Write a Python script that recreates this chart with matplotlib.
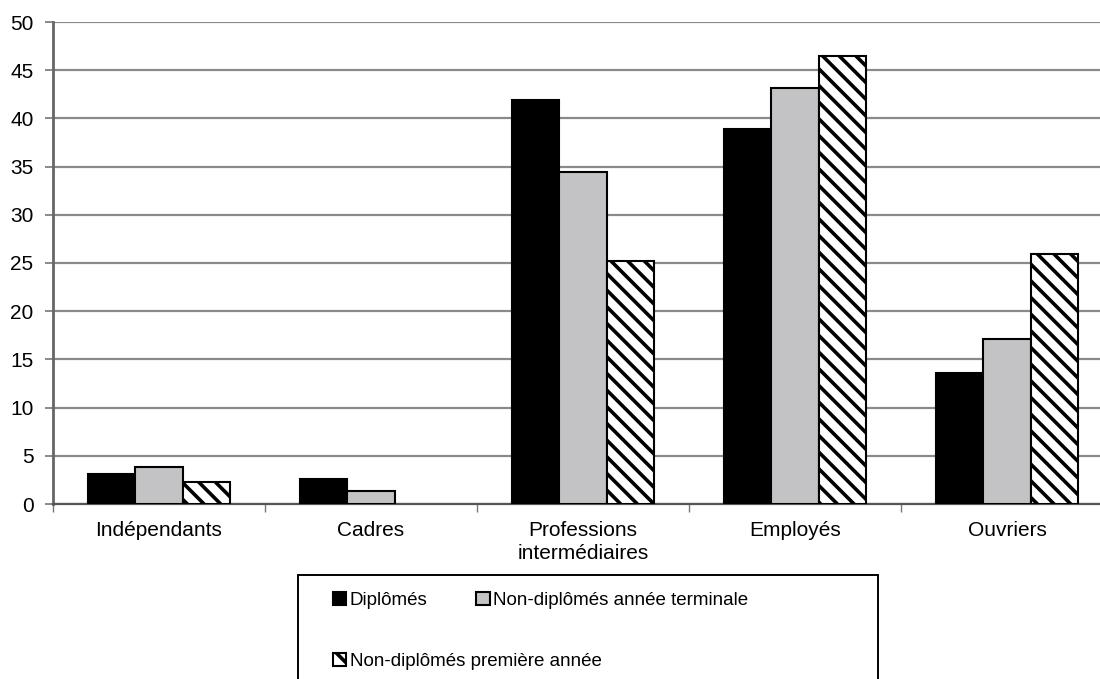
import numpy as np
import matplotlib
matplotlib.use('Agg')
import matplotlib.pyplot as plt
from matplotlib.patches import Rectangle

plt.rcParams['font.family'] = ['Liberation Sans', 'DejaVu Sans']
plt.rcParams['hatch.linewidth'] = 2.6

# catégories socioprofessionnelles et pourcentages
categories = ['Indépendants', 'Cadres', 'Professions\nintermédiaires', 'Employés', 'Ouvriers']
diplomes = [3.1, 2.6, 41.9, 38.9, 13.6]
non_dipl_terminale = [3.8, 1.3, 34.4, 43.2, 17.1]
non_dipl_premiere = [2.3, 0, 25.2, 46.5, 25.9]
series_labels = ['Diplômés', 'Non-diplômés année terminale', 'Non-diplômés première année']

fig = plt.figure(figsize=(11, 6.79), dpi=100)
ax = fig.add_axes([53 / 1100, 1 - 504 / 679, 1060 / 1100, 482 / 679])

x = np.arange(len(categories))
w = 0.222
b1 = ax.bar(x - w, diplomes, w, color='black', edgecolor='black', linewidth=1.5, zorder=3)
b2 = ax.bar(x, non_dipl_terminale, w, color='#c3c3c5', edgecolor='black', linewidth=1.5, zorder=3)
b3 = ax.bar(x + w, non_dipl_premiere, w, color='white', edgecolor='black', linewidth=1.5,
            hatch='\\\\', zorder=3)
# pas de trait pour les barres nulles
for bars in (b1, b2, b3):
    for p in bars:
        if p.get_height() == 0:
            p.set_visible(False)

ax.set_xlim(-0.5, len(categories) - 0.5)
ax.set_ylim(0, 50)
ax.set_yticks(np.arange(0, 51, 5))
ax.yaxis.grid(True, color='#8a8a8a', linewidth=1.6, zorder=0)
ax.set_axisbelow(True)

ax.set_xticks(x)
ax.set_xticklabels(categories, fontsize=15, linespacing=1.3)
ax.set_xticks(np.arange(-0.5, len(categories), 1), minor=True)
ax.tick_params(axis='x', which='major', length=0, pad=12)
ax.tick_params(axis='x', which='minor', length=6, width=1, color='#777777', direction='out')
ax.tick_params(axis='y', labelsize=15, length=6, width=1.2, color='#777777', pad=8)

for s in ['top', 'right']:
    ax.spines[s].set_visible(False)
ax.spines['left'].set_color('#666666')
ax.spines['left'].set_linewidth(2)
ax.spines['bottom'].set_color('#555555')
ax.spines['bottom'].set_linewidth(1.6)

# cadre de la légende
fig.patches.append(Rectangle((298 / 1100, -0.05), 580 / 1100, 0.05 + (679 - 575) / 679,
                             transform=fig.transFigure, facecolor='white',
                             edgecolor='black', linewidth=1.4))
leg_kw = dict(loc='upper left', frameon=False, fontsize=13.5, handlelength=0.7,
              handleheight=0.7, handletextpad=0.2, borderaxespad=0, borderpad=0)
fig.legend([b1, b2], series_labels[:2], ncol=2, columnspacing=2.6,
           bbox_to_anchor=(333 / 1100, 1 - 592 / 679), **leg_kw)
fig.legend([b3], series_labels[2:], bbox_to_anchor=(333 / 1100, 1 - 653 / 679), **leg_kw)

fig.savefig('out.png', dpi=100)
